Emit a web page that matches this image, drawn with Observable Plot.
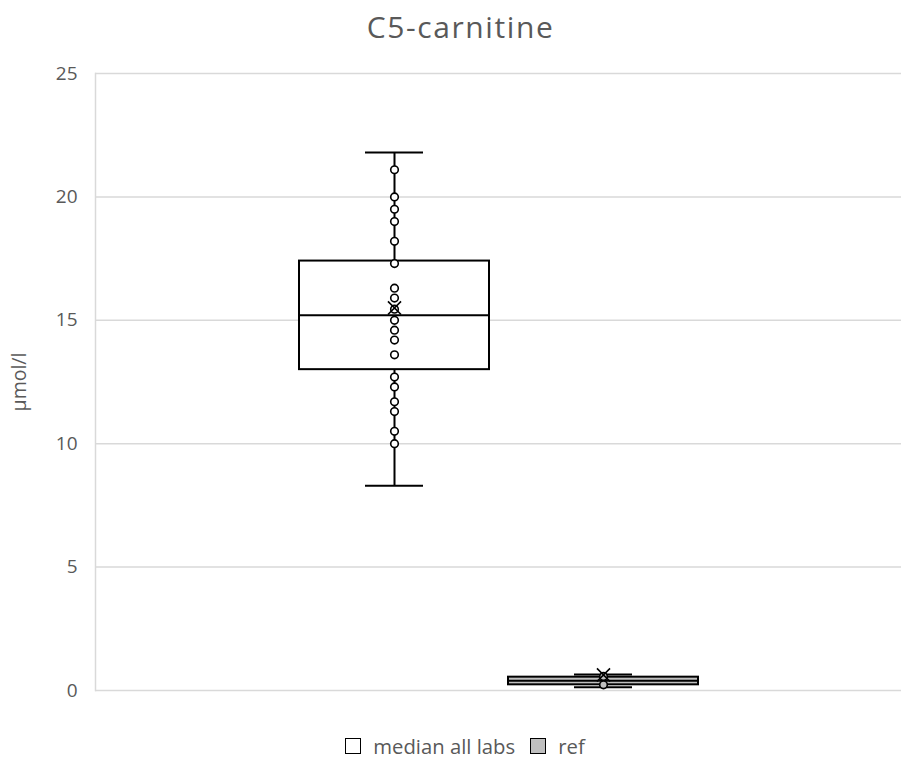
<!DOCTYPE html>
<html>
<head>
<meta charset="utf-8">
<script src="https://cdn.jsdelivr.net/npm/d3@7"></script>
<script src="https://cdn.jsdelivr.net/npm/@observablehq/plot@0.6"></script>
<style>
  body { margin: 0; background: #fff; font-family: "Open Sans", sans-serif; }
  #wrap { width: 901px; }
  #title { height: 53px; line-height: 53px; font-size: 30px; letter-spacing: 1.6px; color: #595959; text-align: center; padding-left: 20px; box-sizing: border-box; }
  #chart svg { display: block; }
  #legend { height: 45px; box-sizing: border-box; padding-top: 17px; padding-left: 29px; display: flex; justify-content: center; align-items: flex-start; font-size: 20.3px; color: #595959; }
  .item { display: flex; align-items: center; margin: 0 7.5px; line-height: normal; }
  .sw { width: 14px; height: 14px; border: 1.5px solid #000; margin-right: 12px; }
</style>
</head>
<body>
<div id="wrap">
  <div id="title">C5-carnitine</div>
  <div id="chart"></div>
  <div id="legend"></div>
</div>
<script>
const series = ["median all labs", "ref"];
const seriesFill = ["#ffffff", "#bfbfbf"];
const mins = [8.3, 0.13];
const q1s = [13.0, 0.23];
const medians = [15.2, 0.40];
const q3s = [17.4, 0.54];
const maxs = [21.8, 0.65];
const means = [15.5, 0.63];
const pointsAll = [21.1, 20.0, 19.5, 19.0, 18.2, 17.3, 16.3, 15.9, 15.45, 15.0, 14.6, 14.2, 13.6, 12.7, 12.3, 11.7, 11.3, 10.5, 10.0];
const pointsRef = [0.57, 0.23];
const yTicks = [0, 5, 10, 15, 20, 25];
const yLabel = "µmol/l";

const stats = series.map((s, i) => ({
  series: s, fill: seriesFill[i], min: mins[i], q1: q1s[i], median: medians[i],
  q3: q3s[i], max: maxs[i], mean: means[i]
}));
const points = [
  ...pointsAll.map(v => ({series: series[0], value: v, fill: seriesFill[0]})),
  ...pointsRef.map(v => ({series: series[1], value: v, fill: seriesFill[1]}))
];

const chart = Plot.plot({
  width: 901,
  height: 662,
  marginLeft: 95,
  marginRight: 0,
  marginTop: 20,
  marginBottom: 25,
  style: {fontFamily: "'Open Sans', sans-serif", color: "#595959", background: "#fff"},
  x: {domain: series, paddingInner: 0.0931, paddingOuter: 0.97, axis: null},
  y: {domain: [0, 25], ticks: yTicks},
  marks: [
    Plot.gridY(yTicks, {stroke: "#d9d9d9", strokeOpacity: 1, strokeWidth: 1.5}),
    Plot.frame({anchor: "left", stroke: "#d9d9d9", strokeWidth: 1.5}),
    Plot.axisY({ticks: yTicks, tickSize: 0, tickPadding: 18, fontSize: 19, tickFormat: d => String(d)}),
    Plot.axisY({ticks: [], tickSize: 0, fontSize: 19.5, label: yLabel,
      labelAnchor: "center", labelOffset: 83, labelArrow: "none"}),
    Plot.ruleX(stats, {x: "series", y1: "min", y2: "max", stroke: "#000", strokeWidth: 2}),
    Plot.barY(stats, {x: "series", y1: "q1", y2: "q3", fill: "fill", stroke: "#000", strokeWidth: 2}),
    Plot.tickY(stats, {x: "series", y: "median", stroke: "#000", strokeWidth: 2}),
    Plot.tickY(stats, {x: "series", y: "min", stroke: "#000", strokeWidth: 2, insetLeft: 66, insetRight: 66}),
    Plot.tickY(stats, {x: "series", y: "max", stroke: "#000", strokeWidth: 2, insetLeft: 66, insetRight: 66}),
    Plot.dot(points, {x: "series", y: "value", r: 3.8, fill: "fill", stroke: "#000", strokeWidth: 1.6}),
    Plot.dot(stats, {x: "series", y: "mean", symbol: "times", r: 6, stroke: "#000", strokeWidth: 1.6})
  ]
});
document.getElementById("chart").appendChild(chart);

const legend = document.getElementById("legend");
series.forEach((s, i) => {
  const item = document.createElement("div");
  item.className = "item";
  const sw = document.createElement("div");
  sw.className = "sw";
  sw.style.background = seriesFill[i];
  const t = document.createElement("span");
  t.textContent = s;
  item.appendChild(sw);
  item.appendChild(t);
  legend.appendChild(item);
});
</script>
</body>
</html>
